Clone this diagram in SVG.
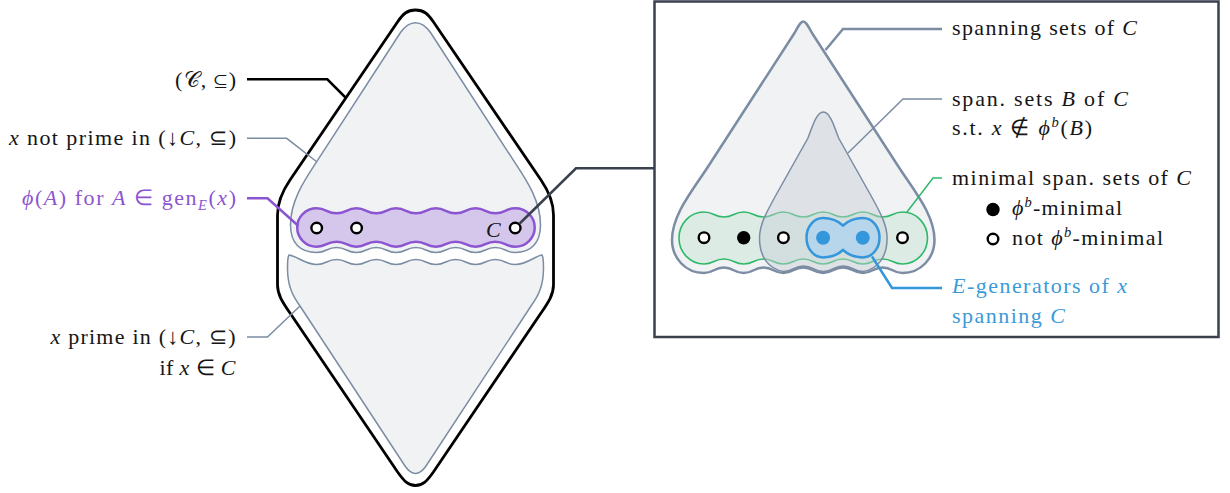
<svg xmlns="http://www.w3.org/2000/svg" width="1230" height="493" viewBox="0 0 1230 493">
<style>
.i{font-style:italic}
.sup{font-size:14.5px;font-style:italic}
.k{fill:#151515}
.pu{fill:#8b55d1}
.bl{fill:#3a9ad9}
.dw{fill:#fff;stroke:#000;stroke-width:2.4}
.db{fill:#000}
.dblue{fill:#3497db}
.gr{fill:#f0f2f4;stroke:#7b8ca3;stroke-width:1.5;stroke-linejoin:round}
.grw{fill:#f0f2f4;stroke:#7b8ca3;stroke-width:2.5;stroke-linejoin:round}
.conn path{fill:none}
</style>

<!-- LEFT DIAMOND -->
<g id="poset">
<path d="M 397.5 22 C 403 14 407 10 415.5 10 C 424 10 428 14 433.5 22 L 541 180 C 549.2 192 553.5 203 553.5 215 L 553.5 285 C 553.5 295 547.8 303 541 313 L 433.4 472 C 427 481 423 485.5 415.5 485.5 C 408 485.5 404 481 397.6 472 L 290 313 C 283.2 303 277.5 295 277.5 285 L 277.5 215 C 277.5 203 281.8 192 290 180 Z" fill="#fff" stroke="#000" stroke-width="2.8"/>
</g>
<g id="not-prime">
<path class="gr" d="M 316.7 161.7 L 400.5 32.5 C 405.5 25.5 409.5 22.7 415.5 22.7 C 421.5 22.7 425.5 25.5 430.5 32.5 L 514.3 161.7 C 525.7 179.2 540.5 200 540.5 225 C 540.5 243 531 252.5 515.2 252.5 c -9.925 0 -9.925 -5 -19.85 -5 c -9.925 0 -9.925 5 -19.85 5 c -9.925 0 -9.925 -5 -19.85 -5 c -9.925 0 -9.925 5 -19.85 5 c -9.925 0 -9.925 -5 -19.85 -5 c -9.925 0 -9.925 5 -19.85 5 c -9.925 0 -9.925 -5 -19.85 -5 c -9.925 0 -9.925 5 -19.85 5 c -9.925 0 -9.925 -5 -19.85 -5 c -9.925 0 -9.925 5 -19.85 5 C 300 252.5 290.5 243 290.5 225 C 290.5 200 305.3 179.2 316.7 161.7 Z"/>
</g>
<g id="prime">
<path class="gr" d="M 289 255 C 297 256 305 264.5 316.7 264.5 c 9.925 0 9.925 -5 19.85 -5 c 9.925 0 9.925 5 19.85 5 c 9.925 0 9.925 -5 19.85 -5 c 9.925 0 9.925 5 19.85 5 c 9.925 0 9.925 -5 19.85 -5 c 9.925 0 9.925 5 19.85 5 c 9.925 0 9.925 -5 19.85 -5 c 9.925 0 9.925 5 19.85 5 c 9.925 0 9.925 -5 19.85 -5 c 9.925 0 9.925 5 19.85 5 C 527 264.5 535 256 542 255 C 543.5 257 543.5 262 543.5 268 C 543.5 285 539 295 531 306 L 426 466 Q 415.5 481 405 466 L 300 306 C 292 295 287.5 285 287.5 268 C 287.5 262 287.5 257 289 255 Z"/>
</g>
<g id="phi-gen">
<path d="M 316.7 208.3 c 9.925 0 9.925 5 19.85 5 c 9.925 0 9.925 -5 19.85 -5 c 9.925 0 9.925 5 19.85 5 c 9.925 0 9.925 -5 19.85 -5 c 9.925 0 9.925 5 19.85 5 c 9.925 0 9.925 -5 19.85 -5 c 9.925 0 9.925 5 19.85 5 c 9.925 0 9.925 -5 19.85 -5 c 9.925 0 9.925 5 19.85 5 c 9.925 0 9.925 -5 19.85 -5 c 10.8 0 19.5 8.6 19.5 19.2 c 0 10.6 -8.7 19.2 -19.5 19.2 c -9.925 0 -9.925 -5 -19.85 -5 c -9.925 0 -9.925 5 -19.85 5 c -9.925 0 -9.925 -5 -19.85 -5 c -9.925 0 -9.925 5 -19.85 5 c -9.925 0 -9.925 -5 -19.85 -5 c -9.925 0 -9.925 5 -19.85 5 c -9.925 0 -9.925 -5 -19.85 -5 c -9.925 0 -9.925 5 -19.85 5 c -9.925 0 -9.925 -5 -19.85 -5 c -9.925 0 -9.925 5 -19.85 5 c -10.8 0 -19.5 -8.6 -19.5 -19.2 c 0 -10.6 8.7 -19.2 19.5 -19.2 Z" fill="#d5c7ec" stroke="#8b55d1" stroke-width="2.5"/>
<circle class="dw" cx="316.7" cy="228" r="5.3"/>
<circle class="dw" cx="356.6" cy="228" r="5.3"/>
<circle class="dw" cx="515.2" cy="228" r="5.3"/>
<text class="i k" x="486" y="236.5" font-family="Liberation Serif" font-size="22">C</text>
</g>

<!-- RIGHT BOX -->
<g id="zoom-box">
<rect x="654.5" y="1.5" width="564" height="335.5" fill="#fff" stroke="#3a404d" stroke-width="2.5"/>
</g>
<g id="spanning-sets">
<path class="grw" d="M 794.5 33 C 798.5 26 800.5 21.5 803.25 21.5 C 806 21.5 808 26 812 33 L 898.7 167 C 915 192 934.5 215 934.5 240 C 934.5 258 921 273 902.5 273 c -9.925 0 -9.925 -5.5 -19.85 -5.5 c -9.925 0 -9.925 5.5 -19.85 5.5 c -9.925 0 -9.925 -5.5 -19.85 -5.5 c -9.925 0 -9.925 5.5 -19.85 5.5 c -9.925 0 -9.925 -5.5 -19.85 -5.5 c -9.925 0 -9.925 5.5 -19.85 5.5 c -9.925 0 -9.925 -5.5 -19.85 -5.5 c -9.925 0 -9.925 5.5 -19.85 5.5 c -9.925 0 -9.925 -5.5 -19.85 -5.5 c -9.925 0 -9.925 5.5 -19.85 5.5 C 685.5 273 672 258 672 240 C 672 215 691.5 192 707.8 167 Z"/>
</g>
<g id="minimal-sets">
<path d="M 704 212 c 9.925 0 9.925 5 19.85 5 c 9.925 0 9.925 -5 19.85 -5 c 9.925 0 9.925 5 19.85 5 c 9.925 0 9.925 -5 19.85 -5 c 9.925 0 9.925 5 19.85 5 c 9.925 0 9.925 -5 19.85 -5 c 9.925 0 9.925 5 19.85 5 c 9.925 0 9.925 -5 19.85 -5 c 9.925 0 9.925 5 19.85 5 c 9.925 0 9.925 -5 19.85 -5 c 13.8 0 25 11.6 25 26 c 0 14.4 -11.2 26 -25 26 c -9.925 0 -9.925 -5 -19.85 -5 c -9.925 0 -9.925 5 -19.85 5 c -9.925 0 -9.925 -5 -19.85 -5 c -9.925 0 -9.925 5 -19.85 5 c -9.925 0 -9.925 -5 -19.85 -5 c -9.925 0 -9.925 5 -19.85 5 c -9.925 0 -9.925 -5 -19.85 -5 c -9.925 0 -9.925 5 -19.85 5 c -9.925 0 -9.925 -5 -19.85 -5 c -9.925 0 -9.925 5 -19.85 5 c -13.8 0 -25 -11.6 -25 -26 c 0 -14.4 11.2 -26 25 -26 Z" fill="#dcece5" stroke="#2fb86a" stroke-width="1.6"/>
</g>
<g id="b-sets">
<path d="M 823.3 112 C 829.6 112 833.5 124 838.6 138 L 870.6 195 C 880.6 213 887.1 225 887.1 238 C 887.1 256 878.6 269 863 271.5 c -9.925 0 -9.925 -5.5 -19.85 -5.5 c -9.925 0 -9.925 5.5 -19.85 5.5 c -9.925 0 -9.925 -5.5 -19.85 -5.5 c -9.925 0 -9.925 5.5 -19.85 5.5 C 768 269 759.5 256 759.5 238 C 759.5 225 766 213 776 195 L 808 138 C 813.1 124 817 112 823.3 112 Z" fill="#c8cfd8" fill-opacity="0.45" stroke="#7b8ca3" stroke-width="1.5"/>
</g>
<g id="e-generators">
<path d="M 843 225.5 C 837 220 831 218 823.1 218 C 813.5 218 806.5 227 806.5 237.7 C 806.5 248.4 813.5 257.4 823.1 257.4 C 831 257.4 837 255.4 843 250 C 849 255.4 855 257.4 862.8 257.4 C 872.4 257.4 879.5 248.4 879.5 237.7 C 879.5 227 872.4 218 862.8 218 C 855 218 849 220 843 225.5 Z" fill="#b7d6ec" stroke="#3497db" stroke-width="2.5"/>
</g>
<g id="dots">
<circle class="dw" cx="704" cy="237.7" r="5.3"/>
<circle class="db" cx="743.7" cy="237.7" r="6.7"/>
<circle class="dw" cx="783.4" cy="237.7" r="5.3"/>
<circle class="dblue" cx="823.1" cy="237.7" r="7"/>
<circle class="dblue" cx="862.8" cy="237.7" r="7"/>
<circle class="dw" cx="902.5" cy="237.7" r="5.3"/>
</g>

<!-- CONNECTORS -->
<g id="connectors" class="conn">
<path d="M 247 79.3 L 327.3 79.3 L 345.5 97.5" stroke="#000" stroke-width="2.5"/>
<path d="M 247 138.3 L 286.7 138.3 L 317 162" stroke="#7b8ca3" stroke-width="1.5"/>
<path d="M 247 198.3 L 267.5 198.3 L 298.5 226" stroke="#8b55d1" stroke-width="2.5"/>
<path d="M 247 337 L 267.5 337 L 300 306" stroke="#7b8ca3" stroke-width="1.5"/>
<path d="M 519.7 223.5 L 576 168.3 L 654.5 168.3" stroke="#3a404d" stroke-width="2.5"/>
<path d="M 825.5 50 L 843 29 L 942 29" stroke="#7b8ca3" stroke-width="2.5"/>
<path d="M 848 153 L 903 99 L 942 99" stroke="#7b8ca3" stroke-width="1.5"/>
<path d="M 907 212 L 933 178 L 942 178" stroke="#2fb86a" stroke-width="1.5"/>
<path d="M 872 256.5 L 892 288 L 942 288" stroke="#3497db" stroke-width="2.5"/>
</g>

<!-- LABELS -->
<g id="labels-left">
<text class="k" font-family="Liberation Serif" font-size="22" x="236" y="87" text-anchor="end" textLength="61">(<tspan>𝒞</tspan>, ⊆)</text>
<text class="k" font-family="Liberation Serif" font-size="22" x="236" y="145" text-anchor="end" textLength="227"><tspan class="i">x</tspan> not prime in (↓<tspan class="i">C</tspan>, ⊆)</text>
<text class="pu" font-family="Liberation Serif" font-size="22" x="236" y="205" text-anchor="end" textLength="214"><tspan class="i">ϕ</tspan>(<tspan class="i">A</tspan>) for <tspan class="i">A</tspan> ∈ gen<tspan class="sup" dy="5">E</tspan><tspan dy="-5">(</tspan><tspan class="i">x</tspan>)</text>
<text class="k" font-family="Liberation Serif" font-size="22" x="235.5" y="344" text-anchor="end" textLength="185"><tspan class="i">x</tspan> prime in (↓<tspan class="i">C</tspan>, ⊆)</text>
<text class="k" font-family="Liberation Serif" font-size="22" x="235.5" y="374.5" text-anchor="end" textLength="76">if <tspan class="i">x</tspan> ∈ <tspan class="i">C</tspan></text>
</g>
<g id="labels-right">
<text class="k" font-family="Liberation Serif" font-size="22" x="952" y="35" textLength="185">spanning sets of <tspan class="i">C</tspan></text>
<text class="k" font-family="Liberation Serif" font-size="22" x="952" y="106" textLength="176">span. sets <tspan class="i">B</tspan> of <tspan class="i">C</tspan></text>
<text class="k" font-family="Liberation Serif" font-size="22" x="952" y="135" textLength="140">s.t. <tspan class="i">x</tspan> ∉ <tspan class="i">ϕ</tspan><tspan class="sup" dy="-8">b</tspan><tspan dy="8">(</tspan><tspan class="i">B</tspan>)</text>
<text class="k" font-family="Liberation Serif" font-size="22" x="952" y="185" textLength="239">minimal span. sets of <tspan class="i">C</tspan></text>
<circle class="db" cx="993" cy="209.5" r="6.7"/>
<text class="k" font-family="Liberation Serif" font-size="22" x="1012" y="215" textLength="110"><tspan class="i">ϕ</tspan><tspan class="sup" dy="-8">b</tspan><tspan dy="8">-minimal</tspan></text>
<circle class="dw" cx="993" cy="239" r="5.3"/>
<text class="k" font-family="Liberation Serif" font-size="22" x="1012" y="244.5" textLength="151">not <tspan class="i">ϕ</tspan><tspan class="sup" dy="-8">b</tspan><tspan dy="8">-minimal</tspan></text>
<text class="bl" font-family="Liberation Serif" font-size="22" x="952" y="292.5" textLength="175"><tspan class="i">E</tspan>-generators of <tspan class="i">x</tspan></text>
<text class="bl" font-family="Liberation Serif" font-size="22" x="952" y="323" textLength="113">spanning <tspan class="i">C</tspan></text>
</g>
</svg>
